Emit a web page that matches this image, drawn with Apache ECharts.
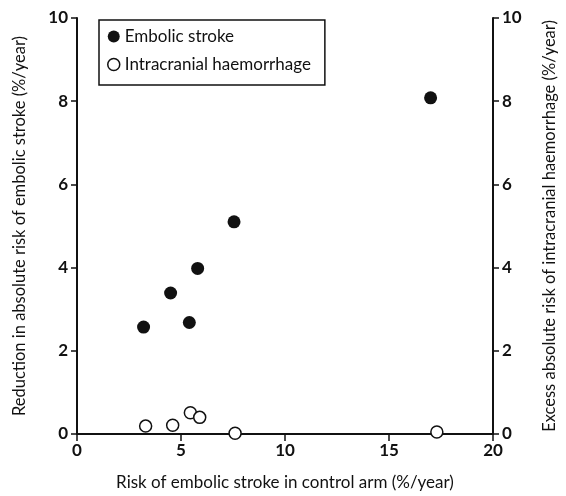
<!DOCTYPE html>
<html>
<head>
<meta charset="utf-8">
<script src="https://cdn.jsdelivr.net/npm/echarts@6/dist/echarts.min.js"></script>
<style>
  html, body { margin: 0; padding: 0; background: #fff; }
  #chart { width: 566px; height: 496px; }
</style>
</head>
<body>
<div id="chart"></div>
<script>
// control-arm risk (x) vs reduction / excess risk (y), %/year
const strokeX = [3.2, 4.5, 5.4, 5.8, 7.55, 17.0];
const strokeY = [2.57, 3.39, 2.68, 3.98, 5.1, 8.08];
const bleedX = [3.3, 4.6, 5.45, 5.9, 7.6, 17.3];
const bleedY = [0.19, 0.21, 0.51, 0.4, 0.02, 0.05];
const seriesNames = ['Embolic stroke', 'Intracranial haemorrhage'];
const xTitle = 'Risk of embolic stroke in control arm (%/year)';
const yLeftTitle = 'Reduction in absolute risk of embolic stroke (%/year)';
const yRightTitle = 'Excess absolute risk of intracranial haemorrhage (%/year)';

const font = 'Lato, "Open Sans", sans-serif';
const ink = '#111';

const zip = (xs, ys) => xs.map((x, i) => [x, ys[i]]);

const axisCommon = {
  min: 0,
  max: 10,
  interval: 2,
  splitLine: { show: false },
  axisLine: { show: true, lineStyle: { color: ink, width: 2 } },
  axisTick: { show: true, length: 6, lineStyle: { color: ink, width: 1.5 } },
  axisLabel: { color: ink, fontFamily: font, fontSize: 17, fontWeight: 'bold', margin: 9 },
  nameLocation: 'middle',
  nameTextStyle: { color: ink, fontFamily: font, fontSize: 16.5 },
};

const chart = echarts.init(document.getElementById('chart'));
chart.setOption({
  animation: false,
  backgroundColor: '#fff',
  grid: { left: 77, right: 69, top: 18, bottom: 58 },
  legend: {
    orient: 'vertical',
    left: 99,
    top: 20,
    padding: [8, 14, 12, 8],
    itemGap: 11,
    itemWidth: 12,
    itemHeight: 12,
    borderColor: ink,
    borderWidth: 1.5,
    borderRadius: 0,
    textStyle: { color: ink, fontFamily: font, fontSize: 17 },
    data: [
      { name: seriesNames[0], icon: 'circle', itemStyle: { color: ink } },
      { name: seriesNames[1], icon: 'circle', itemStyle: { color: '#fff', borderColor: ink, borderWidth: 1.5 } },
    ],
  },
  xAxis: {
    type: 'value',
    min: 0,
    max: 20,
    interval: 5,
    splitLine: { show: false },
    axisLine: { onZero: false, lineStyle: { color: ink, width: 2 } },
    axisTick: { length: 7, lineStyle: { color: ink, width: 1.5 } },
    axisLabel: { color: ink, fontFamily: font, fontSize: 17, fontWeight: 'bold', margin: 8 },
    name: xTitle,
    nameLocation: 'middle',
    nameGap: 40,
    nameTextStyle: { color: ink, fontFamily: font, fontSize: 17 },
  },
  yAxis: [
    Object.assign({}, axisCommon, {
      type: 'value',
      position: 'left',
      name: yLeftTitle,
      nameGap: 49,
    }),
    Object.assign({}, axisCommon, {
      type: 'value',
      position: 'right',
      name: yRightTitle,
      nameGap: 48,
    }),
  ],
  series: [
    {
      name: seriesNames[0],
      type: 'scatter',
      yAxisIndex: 0,
      symbol: 'circle',
      symbolSize: 13,
      itemStyle: { color: ink, opacity: 1 },
      data: zip(strokeX, strokeY),
    },
    {
      name: seriesNames[1],
      type: 'scatter',
      yAxisIndex: 1,
      symbol: 'circle',
      symbolSize: 12,
      itemStyle: { color: '#fff', borderColor: ink, borderWidth: 1.5, opacity: 1 },
      data: zip(bleedX, bleedY),
    },
  ],
});
</script>
</body>
</html>
